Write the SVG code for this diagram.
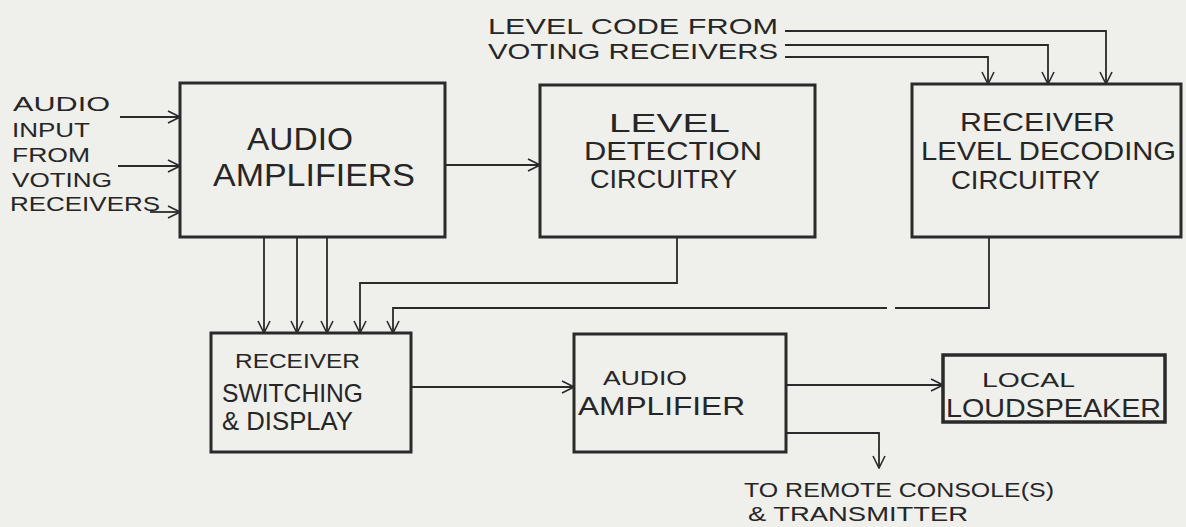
<svg xmlns="http://www.w3.org/2000/svg" width="1186" height="527" viewBox="0 0 1186 527">
<defs>
<marker id="arr" viewBox="0 0 14 14" refX="13" refY="7" markerWidth="14" markerHeight="14" markerUnits="userSpaceOnUse" orient="auto">
<path d="M1,1 L13,7 L1,13" fill="none" stroke="#2a2a2a" stroke-width="1.6"/>
</marker>
<style>
.bg{fill:#efefec}
.box{fill:none;stroke:#2a2a2a;stroke-width:3}
.c{fill:none;stroke:#2a2a2a;stroke-width:1.8}
.a{marker-end:url(#arr)}
text{font-family:"Liberation Sans","DejaVu Sans",sans-serif;fill:#262626}
</style>
</defs>
<rect class="bg" x="0" y="0" width="1186" height="527"/>

<g id="inputs-label">
<text x="13" y="111" font-size="21" textLength="97" lengthAdjust="spacingAndGlyphs">AUDIO</text>
<text x="12" y="137" font-size="21" textLength="78" lengthAdjust="spacingAndGlyphs">INPUT</text>
<text x="12" y="162" font-size="21" textLength="78" lengthAdjust="spacingAndGlyphs">FROM</text>
<text x="12" y="187" font-size="21" textLength="100" lengthAdjust="spacingAndGlyphs">VOTING</text>
<text x="10" y="211" font-size="21" textLength="150" lengthAdjust="spacingAndGlyphs">RECEIVERS</text>
</g>

<g id="level-code-label">
<text x="488" y="34" font-size="22" textLength="290" lengthAdjust="spacingAndGlyphs">LEVEL CODE FROM</text>
<text x="488" y="59" font-size="22" textLength="290" lengthAdjust="spacingAndGlyphs">VOTING RECEIVERS</text>
</g>

<g id="audio-amplifiers">
<rect class="box" x="180" y="83" width="265" height="154"/>
<text x="247" y="150" font-size="31" textLength="106" lengthAdjust="spacingAndGlyphs">AUDIO</text>
<text x="213" y="186" font-size="31" textLength="202" lengthAdjust="spacingAndGlyphs">AMPLIFIERS</text>
</g>

<g id="level-detection">
<rect class="box" x="540" y="85" width="275" height="152"/>
<text x="609" y="132" font-size="25" textLength="121" lengthAdjust="spacingAndGlyphs">LEVEL</text>
<text x="584" y="160" font-size="25" textLength="178" lengthAdjust="spacingAndGlyphs">DETECTION</text>
<text x="590" y="188" font-size="25" textLength="147" lengthAdjust="spacingAndGlyphs">CIRCUITRY</text>
</g>

<g id="receiver-level-decoding">
<rect class="box" x="912" y="84" width="269" height="153"/>
<text x="960" y="131" font-size="25" textLength="155" lengthAdjust="spacingAndGlyphs">RECEIVER</text>
<text x="921" y="160" font-size="25" textLength="255" lengthAdjust="spacingAndGlyphs">LEVEL DECODING</text>
<text x="951" y="189" font-size="25" textLength="149" lengthAdjust="spacingAndGlyphs">CIRCUITRY</text>
</g>

<g id="receiver-switching">
<rect class="box" x="211" y="333" width="200" height="119"/>
<text x="235" y="368" font-size="21" textLength="125" lengthAdjust="spacingAndGlyphs">RECEIVER</text>
<text x="222" y="402" font-size="25" textLength="141" lengthAdjust="spacingAndGlyphs">SWITCHING</text>
<text x="222" y="430" font-size="25" textLength="131" lengthAdjust="spacingAndGlyphs">&amp; DISPLAY</text>
</g>

<g id="audio-amplifier">
<rect class="box" x="574" y="334" width="212" height="118"/>
<text x="603" y="385" font-size="21" textLength="84" lengthAdjust="spacingAndGlyphs">AUDIO</text>
<text x="578" y="415" font-size="26" textLength="167" lengthAdjust="spacingAndGlyphs">AMPLIFIER</text>
</g>

<g id="local-loudspeaker">
<rect class="box" x="943" y="355" width="222" height="67" style="stroke-width:3.5"/>
<text x="982" y="387" font-size="21" textLength="93" lengthAdjust="spacingAndGlyphs">LOCAL</text>
<text x="946" y="417" font-size="25" textLength="215" lengthAdjust="spacingAndGlyphs">LOUDSPEAKER</text>
</g>

<g id="remote-label">
<text x="744" y="497" font-size="21" textLength="310" lengthAdjust="spacingAndGlyphs">TO REMOTE CONSOLE(S)</text>
<text x="748" y="521" font-size="21" textLength="220" lengthAdjust="spacingAndGlyphs">&amp; TRANSMITTER</text>
</g>

<g id="connectors">
<path class="c a" d="M120,117 H180"/>
<path class="c a" d="M118,166 H180"/>
<path class="c a" d="M150,212 H180"/>
<path class="c a" d="M445,165 H540"/>
<path class="c a" d="M785,31 H1106 V84"/>
<path class="c a" d="M785,45 H1048 V84"/>
<path class="c a" d="M785,57 H988 V84"/>
<path class="c a" d="M264,237 V333"/>
<path class="c a" d="M297,237 V333"/>
<path class="c a" d="M327,237 V333"/>
<path class="c a" d="M677,237 V283 H360 V333"/>
<path class="c" d="M989,237 V308 H895"/>
<path class="c a" d="M887,308 H393 V333"/>
<path class="c a" d="M411,387 H574"/>
<path class="c a" d="M786,385 H943"/>
<path class="c a" d="M786,433 H879 V468"/>
</g>
</svg>
